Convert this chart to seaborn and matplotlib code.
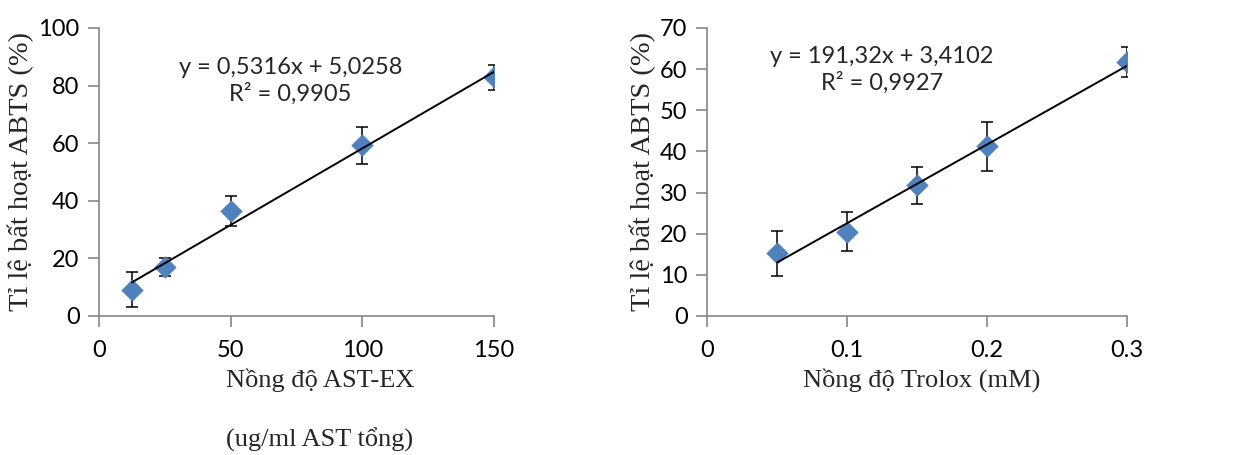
import numpy as np
import pandas as pd
import seaborn as sns
import matplotlib.pyplot as plt

# Left panel: AST-EX
ast_conc = [12.5, 25, 50, 100, 150]
ast_inhib = [9.2, 16.9, 36.5, 59.2, 82.9]
ast_err = [6.1, 3.1, 5.3, 6.3, 4.4]
ast_slope, ast_icpt = 0.5316, 5.0258
ast_eq = ["y = 0,5316x + 5,0258", "R² = 0,9905"]

# Right panel: Trolox
tro_conc = [0.05, 0.1, 0.15, 0.2, 0.3]
tro_inhib = [15.2, 20.5, 31.8, 41.2, 61.7]
tro_err = [5.4, 4.8, 4.5, 6.0, 3.6]
tro_slope, tro_icpt = 191.32, 3.4102
tro_eq = ["y = 191,32x + 3,4102", "R² = 0,9927"]

sns.set_style('white')
plt.rcParams['font.family'] = ['Lato', 'DejaVu Sans']

BLUE = '#4F81BD'
GREY = '#868686'
SERIF = ['Liberation Serif', 'DejaVu Serif']

fig = plt.figure(figsize=(12.42, 4.55), dpi=100)
ax1 = fig.add_axes([0.0797, 0.3055, 0.318, 0.6330])
ax2 = fig.add_axes([0.5692, 0.3055, 0.3382, 0.6330])


def panel(ax, x, y, err, slope, icpt, eq, xlim, ylim, xticks, yticks, xticklabels, eq_xy):
    df = pd.DataFrame({'x': x, 'y': y})
    ax.errorbar(x, y, yerr=err, fmt='none', ecolor='black', elinewidth=1.1,
                capsize=4, capthick=1.1, zorder=2)
    sns.scatterplot(data=df, x='x', y='y', ax=ax, marker='D', s=130,
                    color=BLUE, edgecolor=BLUE, linewidth=0, zorder=3)
    xs = np.array([min(x), max(x)])
    ax.plot(xs, slope * xs + icpt, color='black', lw=1.4, zorder=4)
    ax.set_xlim(*xlim)
    ax.set_ylim(*ylim)
    ax.set_xticks(xticks)
    ax.set_xticklabels(xticklabels)
    ax.set_yticks(yticks)
    ax.tick_params(axis='both', direction='out', length=8, width=1.2,
                   color=GREY, labelsize=17, labelcolor='black', bottom=True, left=True)
    ax.tick_params(axis='x', pad=9)
    ax.tick_params(axis='y', pad=6)
    for s in ['top', 'right']:
        ax.spines[s].set_visible(False)
    for s in ['left', 'bottom']:
        ax.spines[s].set_color(GREY)
        ax.spines[s].set_linewidth(1.2)
    ax.set_xlabel('')
    ax.set_ylabel('Tỉ lệ bất hoạt ABTS (%)', family=SERIF, fontsize=20.5, labelpad=3)
    ax.text(eq_xy[0], eq_xy[1], eq[0] + '\n' + eq[1], transform=ax.transAxes,
            ha='center', va='center', fontsize=17, linespacing=1.25)


panel(ax1, ast_conc, ast_inhib, ast_err, ast_slope, ast_icpt, ast_eq,
      (0, 150), (0, 100), [0, 50, 100, 150], [0, 20, 40, 60, 80, 100],
      ['0', '50', '100', '150'], (0.485, 0.815))
panel(ax2, tro_conc, tro_inhib, tro_err, tro_slope, tro_icpt, tro_eq,
      (0, 0.3), (0, 70), [0, 0.1, 0.2, 0.3], list(range(0, 71, 10)),
      ['0', '0.1', '0.2', '0.3'], (0.417, 0.853))

fig.text(320 / 1242, 1 - 380 / 455, 'Nồng độ AST-EX', family=SERIF, fontsize=19,
         ha='center', va='center')
fig.text(320 / 1242, 1 - 440 / 455, '(ug/ml AST tổng)', family=SERIF, fontsize=19,
         ha='center', va='center')
fig.text(922 / 1242, 1 - 380 / 455, 'Nồng độ Trolox (mM)', family=SERIF, fontsize=19,
         ha='center', va='center')

fig.savefig('out.png', dpi=100)
